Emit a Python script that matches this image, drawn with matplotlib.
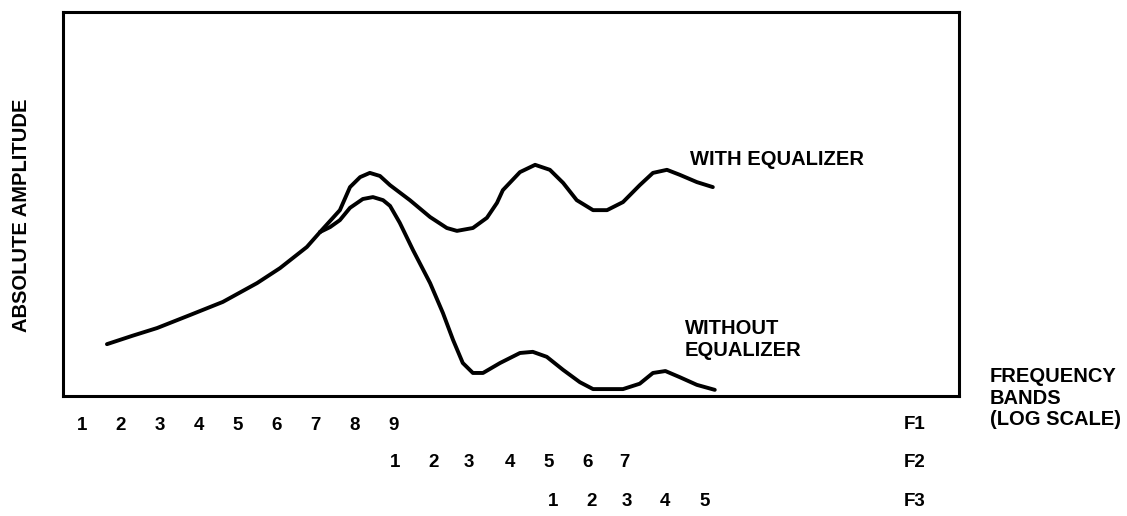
import matplotlib
matplotlib.use("Agg")
import matplotlib.pyplot as plt

plt.rcParams['font.family'] = ['Liberation Sans', 'DejaVu Sans']

# Band index positions (equal spacing on the printed log scale)
f1_labels = ["1", "2", "3", "4", "5", "6", "7", "8", "9"]
f1_pos = [1, 2, 3, 4, 5, 6, 7, 8, 9]
f2_labels = ["1", "2", "3", "4", "5", "6", "7"]
f2_pos = [9.05, 10.05, 10.95, 12.0, 13.0, 14.0, 14.95]
f3_labels = ["1", "2", "3", "4", "5"]
f3_pos = [13.1, 14.1, 15.0, 16.0, 17.0]
row_names = ["F1", "F2", "F3"]

# Shared low-frequency part of both curves
shared_x = [1.64, 2.3, 2.93, 3.78, 4.62, 5.50, 6.09, 6.78, 7.12]
shared_y = [13.5, 15.7, 17.7, 21.1, 24.5, 29.4, 33.3, 38.8, 42.7]

# With equalizer
with_x = [7.63, 7.89, 8.15, 8.40, 8.66, 8.92, 9.43, 9.95, 10.38, 10.64,
          11.05, 11.41, 11.67, 11.82, 12.26, 12.65, 13.03, 13.37, 13.72,
          14.14, 14.50, 14.91, 15.34, 15.68, 16.04, 16.37, 16.81, 17.22]
with_y = [48.4, 54.4, 57.0, 58.1, 57.3, 54.9, 51.0, 46.6, 43.75, 43.0,
          43.75, 46.4, 50.3, 53.6, 58.3, 60.2, 58.9, 55.5, 51.0,
          48.4, 48.4, 50.5, 54.9, 58.1, 58.9, 57.6, 55.7, 54.4]

# Without equalizer
without_x = [7.38, 7.63, 7.89, 8.22, 8.48, 8.74, 8.92, 9.17, 9.51, 9.95,
             10.28, 10.54, 10.79, 11.05, 11.31, 11.75, 12.26, 12.59, 12.95,
             13.37, 13.80, 14.14, 14.91, 15.34, 15.68, 16.0, 16.37, 16.81,
             17.27]
without_y = [44.0, 45.8, 49.0, 51.3, 51.8, 51.0, 49.5, 45.1, 38.0, 29.4,
             21.6, 14.6, 8.6, 6.0, 6.0, 8.6, 11.2, 11.5, 10.2,
             6.8, 3.6, 1.8, 1.8, 3.2, 6.0, 6.5, 4.9, 2.9,
             1.6]

fig = plt.figure(figsize=(11.27, 5.16), dpi=100)
ax = fig.add_axes([63 / 1127, 1 - 396 / 516, (959 - 63) / 1127, (396 - 12) / 516])
ax.set_xlim(0.51, 23.55)
ax.set_ylim(0, 100)

lw = 2.8
style = dict(color="black", lw=lw, solid_capstyle="round", solid_joinstyle="round")
ax.plot(shared_x, shared_y, **style)
ax.plot([shared_x[-1]] + with_x, [shared_y[-1]] + with_y, **style)
ax.plot([shared_x[-1]] + without_x, [shared_y[-1]] + without_y, **style)

for s in ax.spines.values():
    s.set_linewidth(2.2)
    s.set_color("black")

fs = 13.5
ax.set_yticks([])
ax.set_xticks(f1_pos)
ax.set_xticklabels(f1_labels, fontsize=fs, fontweight="bold")
ax.tick_params(axis="x", length=0, pad=15)

tr = ax.get_xaxis_transform()
for p, l in zip(f2_pos, f2_labels):
    ax.text(p, -0.174, l, transform=tr, ha="center", va="center",
            fontsize=fs, fontweight="bold")
for p, l in zip(f3_pos, f3_labels):
    ax.text(p, -0.276, l, transform=tr, ha="center", va="center",
            fontsize=fs, fontweight="bold")
for yy, name in zip([-0.0755, -0.174, -0.276], row_names):
    ax.text(22.4, yy, name, transform=tr, ha="center", va="center",
            fontsize=fs, fontweight="bold")

tfs = 14.5
ax.text(16.63, 61.7, "WITH EQUALIZER", ha="left", va="center",
        fontsize=tfs, fontweight="bold")
ax.text(16.5, 14.6, "WITHOUT\nEQUALIZER", ha="left", va="center",
        fontsize=tfs, fontweight="bold", linespacing=1.2)

fig.text(990 / 1127, 1 - 398 / 516, "FREQUENCY\nBANDS\n(LOG SCALE)",
         ha="left", va="center", fontsize=tfs, fontweight="bold",
         linespacing=1.15)

fig.text(22 / 1127, 1 - 215 / 516, "ABSOLUTE AMPLITUDE", rotation=90,
         ha="center", va="center", fontsize=tfs, fontweight="bold")

fig.savefig("out.png", dpi=100)
